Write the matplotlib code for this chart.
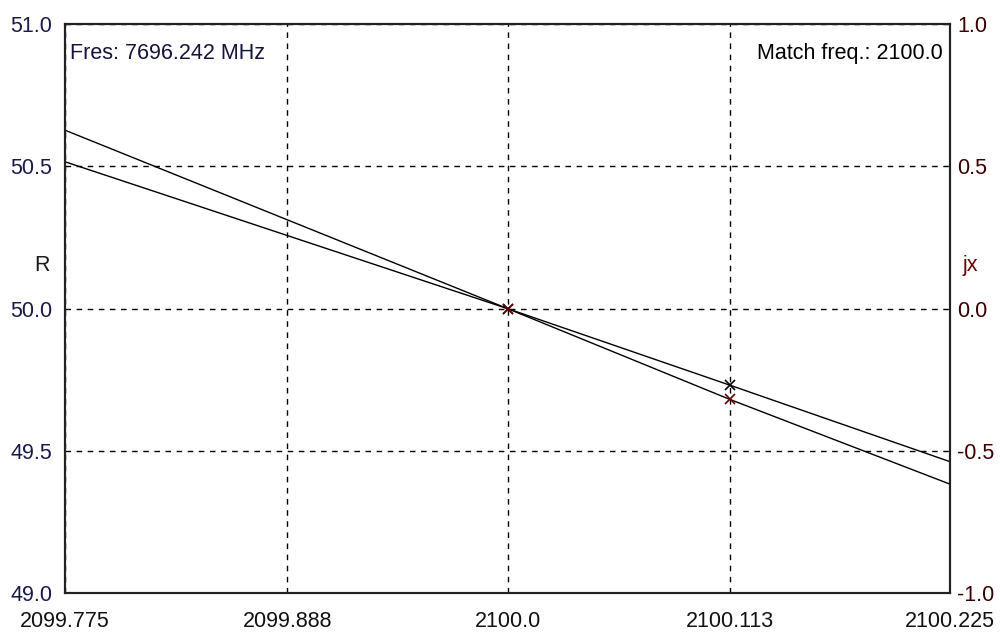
import numpy as np
import matplotlib.pyplot as plt

plt.rcParams['font.family'] = ['Liberation Sans', 'DejaVu Sans']

# frequency sweep (MHz) and impedance components
freq = [2099.775, 2100.0, 2100.113, 2100.225]
r_vals = [50.516, 50.0, 49.731, 49.462]
jx_vals = [0.627, 0.0, -0.319, -0.617]

# marked points
mark_freq = [2100.0, 2100.113]
mark_r = [50.0, 49.731]
mark_jx = [0.0, -0.319]

xticks = [2099.775, 2099.888, 2100.0, 2100.113, 2100.225]
xtick_labels = ['2099.775', '2099.888', '2100.0', '2100.113', '2100.225']
r_ticks = [49.0, 49.5, 50.0, 50.5, 51.0]
jx_ticks = [-1.0, -0.5, 0.0, 0.5, 1.0]

fs = 15.5

fig = plt.figure(figsize=(10, 6.33), dpi=100)
ax = fig.add_axes([0.065, 0.063, 0.885, 0.899])
ax2 = ax.twinx()

ax.plot(freq, r_vals, color='black', lw=1)
ax2.plot(freq, jx_vals, color='black', lw=1)
ax.plot(mark_freq, mark_r, 'x', color='black', ms=7, mew=1.2)
ax2.plot(mark_freq, mark_jx, 'x', color='#6a0000', ms=7, mew=1.2)

ax.set_xlim(2099.775, 2100.225)
ax.set_ylim(49.0, 51.0)
ax2.set_ylim(-1.0, 1.0)

ax.set_xticks(xticks)
ax.set_xticklabels(xtick_labels)
ax.set_yticks(r_ticks)
ax.set_yticklabels(['%.1f' % v for v in r_ticks])
ax2.set_yticks(jx_ticks)
ax2.set_yticklabels(['%.1f' % v for v in jx_ticks])

ax.tick_params(axis='x', length=0, pad=13, labelsize=fs, colors='#111111')
ax.tick_params(axis='y', length=0, pad=9, labelsize=fs, colors='#1a1a4a')
ax2.tick_params(axis='y', length=0, pad=5, labelsize=fs, colors='#3a0000')

ax.grid(True, color='black', linestyle=(0, (4, 4)), lw=1)

for a in (ax, ax2):
    for s in a.spines.values():
        s.set_linewidth(1.5)
        s.set_color('#222222')

# axis names sit beside the frame, level with the 50.0 / 0.0 line
ax.text(-0.026, 0.576, 'R', transform=ax.transAxes, ha='center', va='center',
        fontsize=fs, color='#1a1a1a')
ax.text(1.0226, 0.576, 'jx', transform=ax.transAxes, ha='center', va='center',
        fontsize=fs, color='#6a0000')

ax.text(0.006, 0.949, 'Fres: 7696.242 MHz', transform=ax.transAxes,
        ha='left', va='center', fontsize=fs, color='#14143c')
ax.text(0.992, 0.949, 'Match freq.: 2100.0', transform=ax.transAxes,
        ha='right', va='center', fontsize=fs, color='black')

fig.savefig('out.png', dpi=100)
